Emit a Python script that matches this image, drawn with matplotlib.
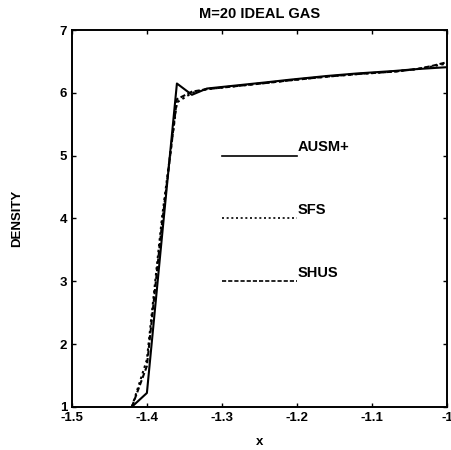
import matplotlib.pyplot as plt

plt.rcParams['font.family'] = ['Liberation Sans', 'DejaVu Sans']
plt.rcParams['font.weight'] = 'bold'

# density profiles near the shock
x_ausm = [-1.42, -1.40, -1.38, -1.36, -1.34, -1.32, -1.28, -1.24, -1.21, -1.16, -1.12, -1.07, -1.04, -1.00]
rho_ausm = [1.0, 1.22, 3.7, 6.15, 5.97, 6.07, 6.12, 6.17, 6.21, 6.27, 6.31, 6.35, 6.38, 6.41]

x_sfs = [-1.42, -1.40, -1.38, -1.36, -1.34, -1.32, -1.28, -1.24, -1.21, -1.16, -1.12, -1.07, -1.04, -1.02, -1.00]
rho_sfs = [1.0, 1.75, 4.0, 5.85, 6.0, 6.06, 6.11, 6.16, 6.2, 6.26, 6.3, 6.34, 6.38, 6.42, 6.47]

x_shus = [-1.42, -1.40, -1.38, -1.36, -1.34, -1.32, -1.28, -1.24, -1.21, -1.16, -1.12, -1.07, -1.04, -1.02, -1.00]
rho_shus = [1.0, 1.65, 3.9, 5.9, 6.02, 6.06, 6.11, 6.16, 6.2, 6.26, 6.3, 6.34, 6.38, 6.43, 6.49]

xticks = [-1.5, -1.4, -1.3, -1.2, -1.1, -1.0]
xtick_labels = ["-1.5", "-1.4", "-1.3", "-1.2", "-1.1", "-1"]
yticks = [1, 2, 3, 4, 5, 6, 7]

fig = plt.figure(figsize=(4.52, 4.5), dpi=100)
ax = fig.add_axes([0.159, 0.096, 0.83, 0.837])

ax.plot(x_ausm, rho_ausm, color="black", linewidth=1.5, linestyle="-")
ax.plot(x_sfs, rho_sfs, color="black", linewidth=1.5, linestyle=(0, (1.2, 1.6)))
ax.plot(x_shus, rho_shus, color="black", linewidth=1.5, linestyle=(0, (2.5, 1.2)))

# labels drawn inside the plot, matlab gtext style
ax.plot([-1.3, -1.2], [5.0, 5.0], color="black", linewidth=1.2, linestyle="-")
ax.plot([-1.3, -1.2], [4.0, 4.0], color="black", linewidth=1.2, linestyle=(0, (1.2, 1.6)))
ax.plot([-1.3, -1.2], [3.0, 3.0], color="black", linewidth=1.2, linestyle=(0, (2.5, 1.2)))
ax.text(-1.199, 5.02, "AUSM+", fontsize=10.5, fontweight="bold", va="bottom")
ax.text(-1.199, 4.02, "SFS", fontsize=10.5, fontweight="bold", va="bottom")
ax.text(-1.199, 3.02, "SHUS", fontsize=10.5, fontweight="bold", va="bottom")

ax.set_xlim(-1.5, -1.0)
ax.set_ylim(1, 7)
ax.set_xticks(xticks)
ax.set_xticklabels(xtick_labels)
ax.set_yticks(yticks)
ax.tick_params(direction="in", length=3, width=1, top=True, right=True, labelsize=9.5)
for s in ax.spines.values():
    s.set_linewidth(1.4)

ax.set_title("M=20 IDEAL GAS", fontsize=10.5, fontweight="bold", pad=9)
ax.set_xlabel("x", fontsize=9.5, fontweight="bold", labelpad=9)
ax.set_ylabel("DENSITY", fontsize=9.5, fontweight="bold", labelpad=26)

plt.savefig("out.png", dpi=100)
